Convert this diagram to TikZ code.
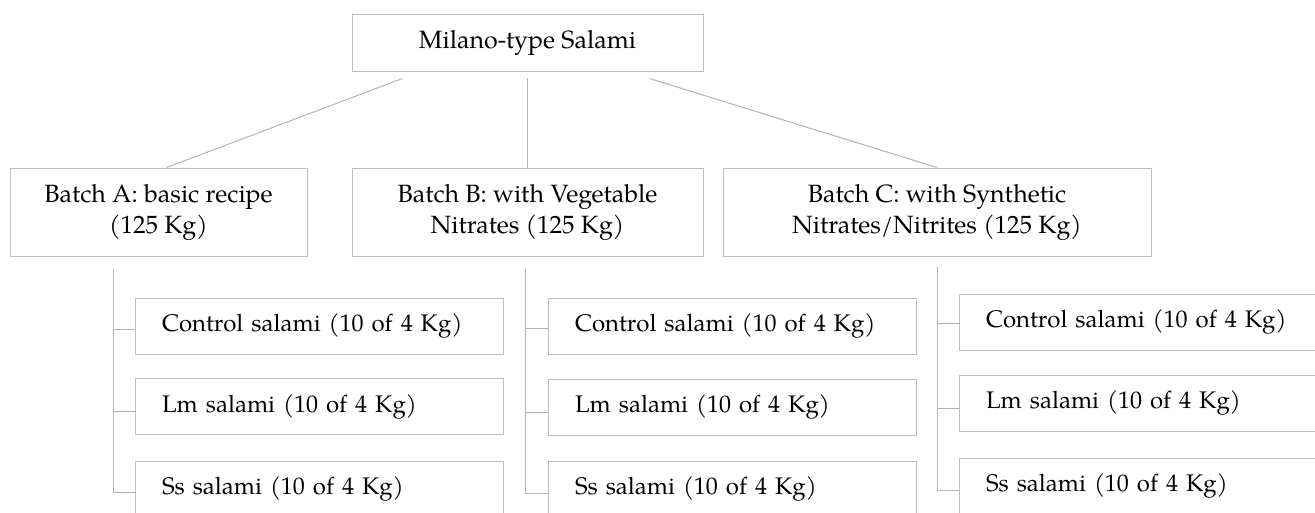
\documentclass[tikz,border=0pt]{standalone}
\usepackage{fontspec}
\setmainfont{TeX Gyre Pagella}
\definecolor{boxline}{RGB}{191,191,191}
\definecolor{conline}{RGB}{180,180,180}
\tikzset{
  x=1pt, y=-1pt,
  topbox/.style={draw=boxline, line width=1pt, inner sep=0pt, align=center,
    font=\fontsize{25}{31}\selectfont},
  batchbox/.style={topbox},
  childbox/.style={draw=boxline, line width=1pt, inner xsep=27pt, inner ysep=0pt,
    minimum height=56pt, text width=314pt, align=left,
    font=\fontsize{24}{30}\selectfont},
  conn/.style={draw=conline, line width=1pt}
}
\begin{document}
\begin{tikzpicture}
\useasboundingbox (0,0) rectangle (1315,512);
\clip (0,0) rectangle (1315,512);
% top
\node[topbox, minimum width=351pt, minimum height=57pt] (top) at (527.5,42.5) {Milano-type Salami};
% batches
\node[batchbox, minimum width=297pt, minimum height=88pt] (A) at (158.5,212) {Batch A: basic recipe\\(125 Kg)};
\node[batchbox, minimum width=351pt, minimum height=88pt] (B) at (527.5,212) {Batch B: with Vegetable\\Nitrates (125 Kg)};
\node[batchbox, minimum width=428pt, minimum height=88pt] (C) at (937,212) {Batch C: with Synthetic\\Nitrates/Nitrites (125 Kg)};
% children
\node[childbox] (A1) at (319,326) {Control salami (10 of 4 Kg)};
\node[childbox] (A2) at (319,406.5) {Lm salami (10 of 4 Kg)};
\node[childbox] (A3) at (319,489) {Ss salami (10 of 4 Kg)};
\node[childbox] (B1) at (732,326) {Control salami (10 of 4 Kg)};
\node[childbox] (B2) at (732,407) {Lm salami (10 of 4 Kg)};
\node[childbox] (B3) at (732,489) {Ss salami (10 of 4 Kg)};
\node[childbox] (C1) at (1143,322) {Control salami (10 of 4 Kg)};
\node[childbox] (C2) at (1143,403) {Lm salami (10 of 4 Kg)};
\node[childbox] (C3) at (1143,486) {Ss salami (10 of 4 Kg)};
% connectors from top
\coordinate (tl) at ([shift={(51,7)}]top.south west);
\coordinate (tm) at ([shift={(0,6)}]top.south);
\coordinate (tr) at ([shift={(-54,7)}]top.south east);
\draw[conn] (tl) -- ([xshift=8pt]A.north);
\draw[conn] (tm) -- (B.north);
\draw[conn] (tr) -- (C.north);
% hanging connectors
\coordinate (vA) at ([shift={(104,12)}]A.south west);
\coordinate (vB) at ([shift={(174,12)}]B.south west);
\coordinate (vC) at ([shift={(0,10)}]C.south);
\draw[conn] (vA) |- ([yshift=-3pt]A3.west);
\draw[conn] ([yshift=-3pt]A1.west) -| (vA);
\draw[conn] ([yshift=-5pt]A2.west) -| (vA);
\draw[conn] (vB) |- ([yshift=-4pt]B3.west);
\draw[conn] ([yshift=-2pt]B1.west) -| (vB);
\draw[conn] ([yshift=-5pt]B2.west) -| (vB);
\draw[conn] (vC) |- ([yshift=-4pt]C3.west);
\draw[conn] ([yshift=-1pt]C1.west) -| (vC);
\draw[conn] ([yshift=-5pt]C2.west) -| (vC);
\end{tikzpicture}
\end{document}
